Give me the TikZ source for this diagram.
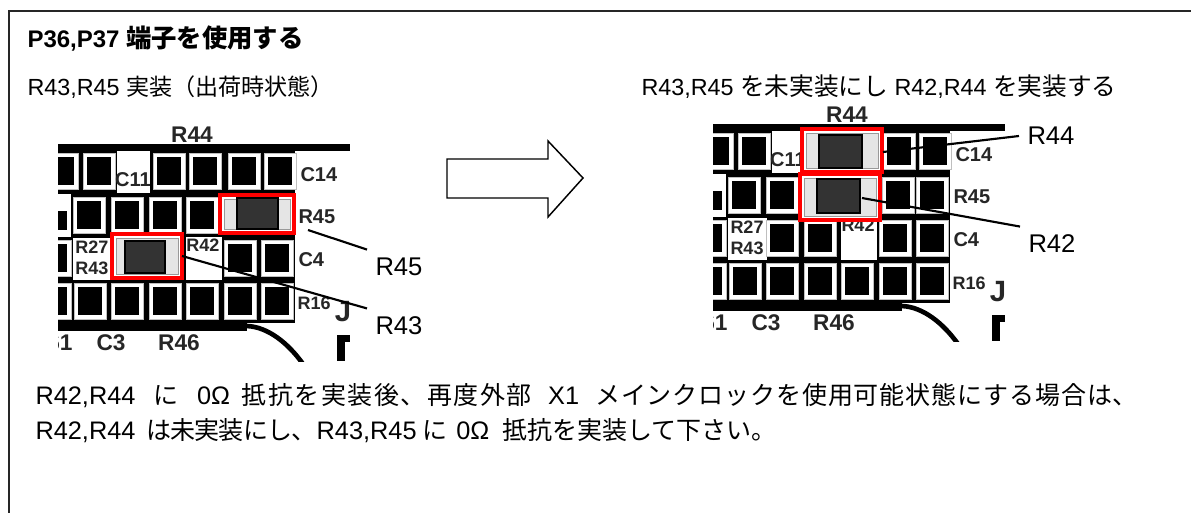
\documentclass[tikz,border=0pt]{standalone}
\usepackage{fontspec}
\setmainfont{Liberation Sans}
\newfontfamily\jp{Noto Sans CJK JP}
\newfontfamily\jpwide[LetterSpace=6]{Noto Sans CJK JP}
\newfontfamily\jpmid[LetterSpace=3.5]{Noto Sans CJK JP}
\newfontfamily\jptight[LetterSpace=-3]{Noto Sans CJK JP}
\tikzset{every picture/.style={line width=0.75pt}}
\tikzset{
  padring/.style={fill=white,draw=black!25,line width=0.5pt},
  chipred/.style={draw=red,line width=2.6pt,fill=white},
  chipend/.style={fill=black!10,draw=black!40,line width=0.6pt},
  chipbody/.style={fill=black!80,draw=black,line width=1pt},
  silk/.style={font=\bfseries\fontsize{17}{17}\selectfont,inner sep=0pt,text=black!85},
  silksmall/.style={font=\bfseries\fontsize{15}{15}\selectfont,inner sep=0pt,text=black!85},
  silktiny/.style={font=\bfseries\fontsize{13.5}{13.5}\selectfont,inner sep=0pt,text=black!85},
  leader/.style={line width=1.6pt},
  partlabel/.style={font=\fontsize{19.2}{19.2}\selectfont,inner sep=6pt},
  headtext/.style={font=\fontsize{17.5}{17.5}\selectfont,inner sep=0pt,anchor=base west},
  bodytext/.style={font=\fontsize{19}{19}\selectfont,inner sep=0pt,anchor=base west},
}
\newcommand{\jpsized}[2]{{\jp\fontsize{#1}{#1}\selectfont #2}}
\newcommand{\boardpad}[2]{\fill[padring] ({#1-16},{#2-18}) rectangle ++(32,36);
  \fill[black] ({#1-12},{#2-14}) rectangle ++(24,28);}
\newcommand{\mountchip}[8]{\draw[chipred] (#1,#2) rectangle (#3,#4);
  \filldraw[chipend] (#1+4,#2+4) rectangle (#3-4,#4-4);
  \filldraw[chipbody] (#5,#6) rectangle (#7,#8);}
\newcommand{\pcbboard}{
  \begin{scope}
    \clip (58,124) rectangle (350,361);
    \fill[black] (58,144) rectangle (295,323);
    \fill[black] (295,144) rectangle (350,151);
    \fill[black] (58,322) rectangle (247,331);
    \draw[line width=3.5pt] (247,326) .. controls (268,327) and (288,343) .. (303,364);
    \fill[white] (117,151) rectangle (150,193);
    \fill[white] (73,238) rectangle (112,280);
    \fill[white] (186,237) rectangle (222,280);
    \fill[white] (58,194) rectangle (71,237);
    \fill[black] (58,211) rectangle (67,230);
    \foreach \x in {62,99,169,205,244,280} {\boardpad{\x}{171}}
    \foreach \x in {89,127,165,202,243,277} {\boardpad{\x}{215}}
    \foreach \x in {55,127,165,240,277} {\boardpad{\x}{258}}
    \foreach \x in {55,90,127,165,202,240,277} {\boardpad{\x}{301}}
    \fill[black] (337,335) rectangle (350,342);
    \fill[black] (337,335) rectangle (345,361);
    \node (silkRff) [silk] at (192,135) {R44};
    \node (silkCoo) [silksmall] at (133,180) {C11};
    \node (silkCof) [silksmall,anchor=west] at (300,175) {C14};
    \node (silkRfv) [silksmall,anchor=west] at (298,217) {R45};
    \node (silkRts) [silktiny] at (92,247) {R27};
    \node (silkRft) [silktiny] at (92,268) {R43};
    \node (silkRtw) [silktiny] at (203,245) {R42};
    \node (silkCf) [silksmall,anchor=west] at (298,260) {C4};
    \node (silkRos) [silktiny,anchor=west] at (297,303) {R16};
    \node (silkJ) [silk,font=\bfseries\fontsize{22}{22}\selectfont] at (343,312) {J};
    \node (silkSo) [silk,anchor=east] at (73,343) {61};
    \node (silkCt) [silk] at (111,343) {C3};
    \node (silkRfs) [silk] at (179,343) {R46};
  \end{scope}
}

\begin{document}
\begin{tikzpicture}[x=0.75pt,y=0.75pt,yscale=-1,xscale=1]
  \useasboundingbox (0,0) rectangle (1191,513);

  %Frame
  \draw [line width=1.4pt,color=black!85] (9,513) -- (9,11) -- (1191,11) ;

  %Left board
  \pcbboard
  \mountchip{220}{195}{294}{233}{237}{198}{278}{229}
  \mountchip{112}{234}{182}{278}{125}{241}{165}{273}

  %Right board
  \begin{scope}[shift={(655,-20)}]
    \pcbboard
  \end{scope}
  \mountchip{802}{129}{882}{172}{819}{135}{862}{168}
  \mountchip{800}{174}{880}{220}{817}{179}{860}{213}

  %Block arrow
  \draw [line width=1.1pt] (447,159) -- (548,159) -- (548,141) -- (583,178) -- (548,217) -- (548,198) -- (447,198) -- cycle ;

  % Text Node
  \node (title) [headtext,font=\bfseries\fontsize{18}{18}\selectfont] at (27,48) {P36,P37 \jpsized{19}{端子を使用する}};
  % Text Node
  \node (caseleft) [headtext] at (27,96) {R43,R45 \jpsized{17.3}{実装（出荷時状態）}};
  % Text Node
  \node (caseright) [headtext] at (641,96) {R43,R45 \jpsized{18.5}{を未実装にし} R42,R44 \jpsized{18.5}{を実装する}};
  % Text Node
  \node (noteone) [bodytext] at (35,404) {R42,R44\hspace{13.5pt}\jpsized{18.75}{に}\hspace{14pt}0Ω\hspace{8.5pt}{\jpwide\fontsize{18.75}{19}\selectfont 抵抗を実装後、再度外部}\hspace{12.5pt}X1\hspace{12pt}{\jpmid\fontsize{18.75}{19}\selectfont メインクロックを使用可能状態にする場合は、}};
  % Text Node
  \node (notetwo) [bodytext] at (35,439) {R42,R44\hspace{8pt}{\jptight\fontsize{18.75}{19}\selectfont は未実装にし、}R43,R45\hspace{4.5pt}\jpsized{18.75}{に}\hspace{6.5pt}0Ω\hspace{10pt}\jpsized{18.75}{抵抗を実装して下さい。}};

  % Text Node
  \node (lblRfv) [partlabel,anchor=west] at (367,267) {R45};
  % Text Node
  \node (lblRft) [partlabel,anchor=west] at (367,326) {R43};
  % Text Node
  \node (lblRff) [partlabel,anchor=west] at (1019,136) {R44};
  % Text Node
  \node (lblRtw) [partlabel,anchor=west] at (1020,244) {R42};

  %Leader lines
  \coordinate (tipRfv) at (308,230);
  \coordinate (tipRft) at (182,256);
  \coordinate (tipRff) at (883,152);
  \coordinate (tipRtw) at (862,198);
  \draw [leader] (tipRfv) -- (lblRfv.north west);
  \draw [leader] (tipRft) -- (lblRft.north west);
  \draw [leader] (tipRff) -- (lblRff.west);
  \draw [leader] (tipRtw) -- (lblRtw.north west);
\end{tikzpicture}
\end{document}
